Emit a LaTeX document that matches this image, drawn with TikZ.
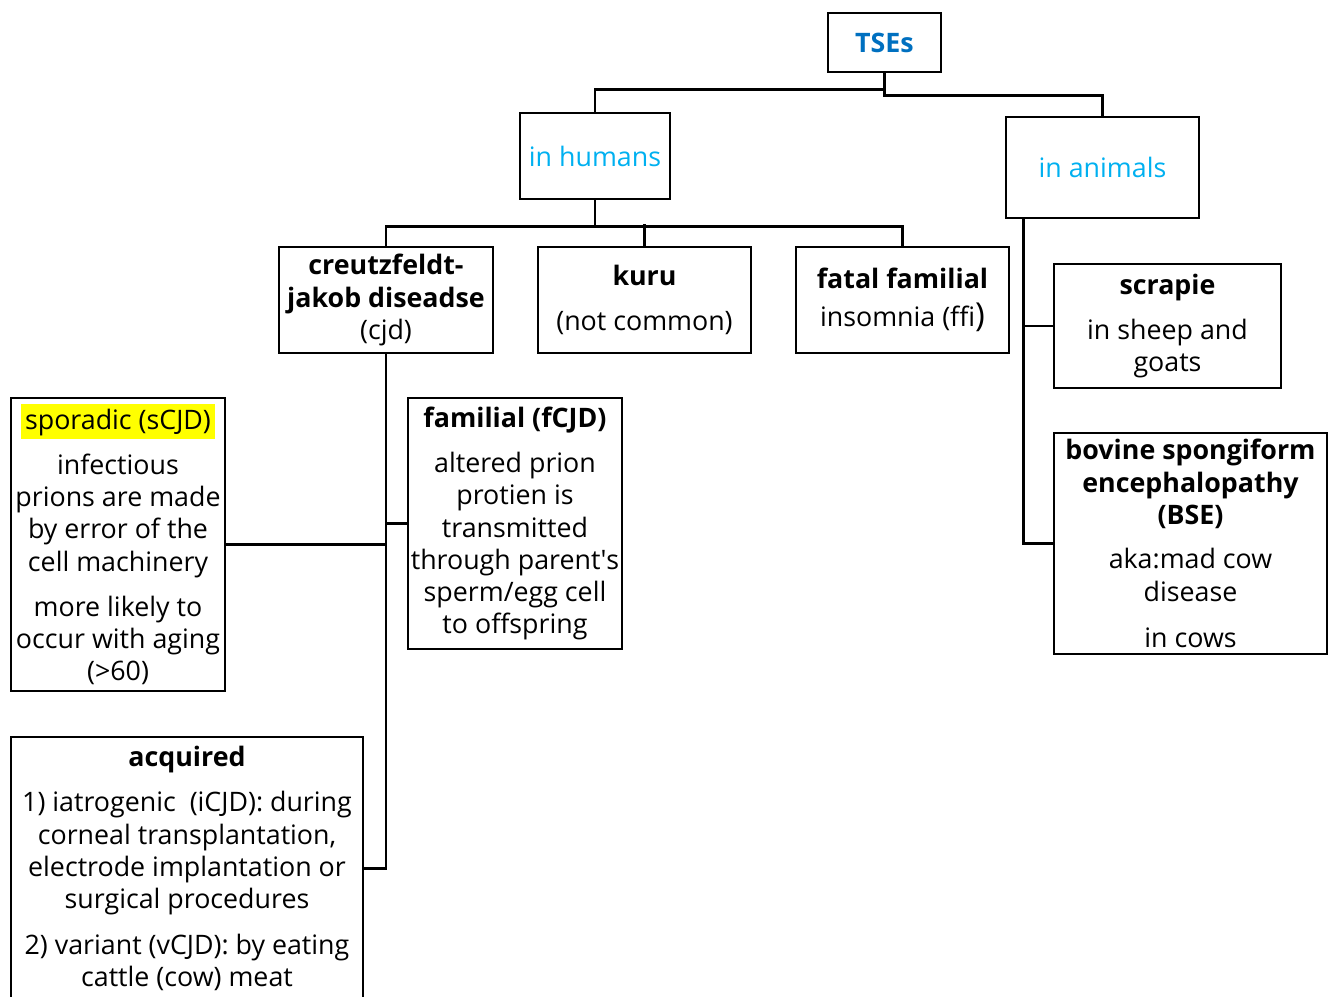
\documentclass[tikz,border=0pt]{standalone}
\usepackage{fontspec}
\setmainfont{Open Sans}[Ligatures=NoCommon]
\definecolor{tseblue}{HTML}{0070C0}
\definecolor{lightblue}{HTML}{00B0F0}
\definecolor{hl}{HTML}{FFFF00}
\setlength{\fboxsep}{0pt}
\newcommand{\fs}{\fontsize{26.8}{32.3}\selectfont}
\tikzset{
  box/.style={draw, line width=2.6pt, inner sep=0pt, align=center, font=\fs},
  conn/.style={line width=2.6pt},
}
\begin{document}
\begin{tikzpicture}[x=1pt,y=-1pt]
\useasboundingbox (0,0) rectangle (1332,996);
% top levels
\node[box, minimum width=113, minimum height=59, text=tseblue, font=\fs\bfseries] (tse) at (884.5,42.5) {TSEs};
\node[box, minimum width=150, minimum height=86, text=lightblue] (hum) at (595,156) {in humans};
\node[box, minimum width=193, minimum height=101, text=lightblue] (ani) at (1102.5,167.5) {in animals};
% human diseases
\node[box, minimum width=214, minimum height=106] (cjd) at (386,300) {\textbf{creutzfeldt-}\\\textbf{jakob diseadse}\\(cjd)};
\node[box, minimum width=213, minimum height=106] (kuru) at (644.5,300) {\textbf{kuru}\\[13pt](not common)};
\node[box, minimum width=213, minimum height=106] (ffi) at (902.5,300) {\textbf{fatal familial}\\[6pt]insomnia (ffi{\fontsize{33}{32}\selectfont)}};
% cjd types
\node[box, minimum width=214, minimum height=293] (spo) at (118,544.5) {\colorbox{hl}{\rule[-9pt]{0pt}{35pt}\,sporadic (sCJD)\,}\\[12pt]infectious\\prions are made\\by error of the\\cell machinery\\[13pt]more likely to\\occur with aging\\(>60)};
\node[box, minimum width=214, minimum height=251] (fam) at (515,523.5) {\textbf{familial (fCJD)}\\[13pt]altered prion\\protien is\\transmitted\\through parent\textquotesingle s\\sperm/egg cell\\to offspring};
\node[box, minimum width=352, minimum height=263] (acq) at (187,868.5) {\textbf{acquired}\\[13pt]1) iatrogenic\ \ (iCJD): during\\corneal transplantation,\\electrode implantation or\\surgical procedures\\[13pt]2) variant (vCJD): by eating\\cattle (cow) meat};
% animal diseases
\node[box, minimum width=227, minimum height=124] (scr) at (1167.5,326) {\textbf{scrapie}\\[13pt]in sheep and\\goats};
\node[box, minimum width=273, minimum height=221] (bse) at (1190.5,543.5) {\textbf{bovine spongiform}\\\textbf{encephalopathy}\\\textbf{(BSE)}\\[12pt]aka:mad cow\\disease\\[14pt]in cows};
% connectors
\draw[conn] (hum.north) -- ++(0,-22) -| (tse.south);
\draw[conn] (tse.south) -- ++(0,22) -| (ani.north);
\draw[conn] (hum.south) -- ++(0,26) -| (cjd.north);
\draw[conn] (hum.south) -- ++(0,26) -| (ffi.north);
\draw[conn] (kuru.north) -- ++(0,-22);
\draw[conn] (cjd.south) |- (acq.east);
\draw[conn] (spo.east) -| (cjd.south);
\draw[conn] (fam.west) -| (cjd.south);
\draw[conn] ([xshift=19pt]ani.south west) |- (scr.west);
\draw[conn] ([xshift=19pt]ani.south west) |- (bse.west);
\end{tikzpicture}
\end{document}
